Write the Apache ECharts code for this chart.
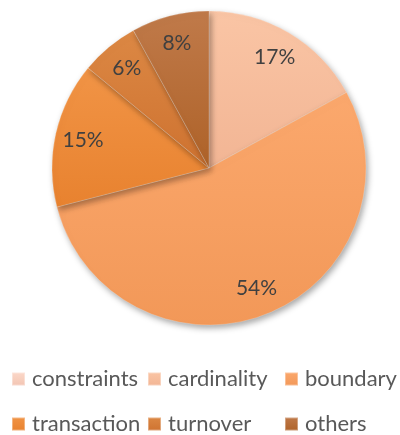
<!DOCTYPE html>
<html>
<head>
<meta charset="utf-8">
<script src="https://cdn.jsdelivr.net/npm/echarts@6/dist/echarts.min.js"></script>
<style>html,body{margin:0;padding:0;background:#fff}#c{width:400px;height:435px}</style>
</head>
<body>
<div id="c"></div>
<script>
var categories = ['constraints', 'cardinality', 'boundary', 'transaction', 'turnover', 'others'];
var values = [0, 17, 54, 15, 6, 8];
var colorsTop = ['#FCD9CA', '#FAC5A5', '#FBA86D', '#F19446', '#DC8844', '#C07A4A'];
var colorsBottom = ['#F2C4B2', '#F2B594', '#F29858', '#E8822F', '#CE7230', '#AE6228'];

function grad(i) {
  return new echarts.graphic.LinearGradient(0, 0, 0, 1, [
    { offset: 0, color: colorsTop[i] },
    { offset: 1, color: colorsBottom[i] }
  ]);
}

var pieData = categories.map(function (name, i) {
  return { name: name, value: values[i], itemStyle: { color: grad(i) } };
});
var labelData = categories.map(function (name, i) {
  return { name: name + '_lbl', value: values[i] };
});

var colLeft = [11, 147, 284];
var rowTop = [368, 413];
var legends = categories.map(function (name, i) {
  return {
    left: colLeft[i % 3],
    top: rowTop[Math.floor(i / 3)],
    padding: 0,
    itemWidth: 13,
    itemHeight: 13,
    icon: 'rect',
    selectedMode: false,
    data: [name],
    textStyle: { fontFamily: 'Lato', fontSize: 22, color: '#595959', padding: [0, 0, 0, 2] }
  };
});

var chart = echarts.init(document.getElementById('c'), null, { renderer: 'canvas' });
chart.setOption({
  animation: false,
  legend: legends,
  series: [
    {
      type: 'pie',
      center: [209, 168],
      radius: [0, 157],
      startAngle: 90,
      clockwise: true,
      data: pieData,
      label: { show: false },
      labelLine: { show: false },
      itemStyle: {
        borderColor: 'rgba(255,255,255,0.35)',
        borderWidth: 0.6,
        shadowBlur: 6,
        shadowOffsetX: 2,
        shadowOffsetY: 3,
        shadowColor: 'rgba(0,0,0,0.35)'
      },
      emphasis: { disabled: true }
    },
    {
      type: 'pie',
      center: [209, 168],
      radius: [94, 158],
      startAngle: 90,
      clockwise: true,
      data: labelData,
      silent: true,
      legendHoverLink: false,
      itemStyle: { color: 'rgba(0,0,0,0)' },
      label: {
        show: true,
        position: 'inside',
        fontFamily: 'Lato',
        fontSize: 21,
        color: '#404040',
        formatter: function (p) { return p.value > 0 ? p.value + '%' : ''; }
      },
      labelLine: { show: false },
      emphasis: { disabled: true }
    }
  ]
});
</script>
</body>
</html>
